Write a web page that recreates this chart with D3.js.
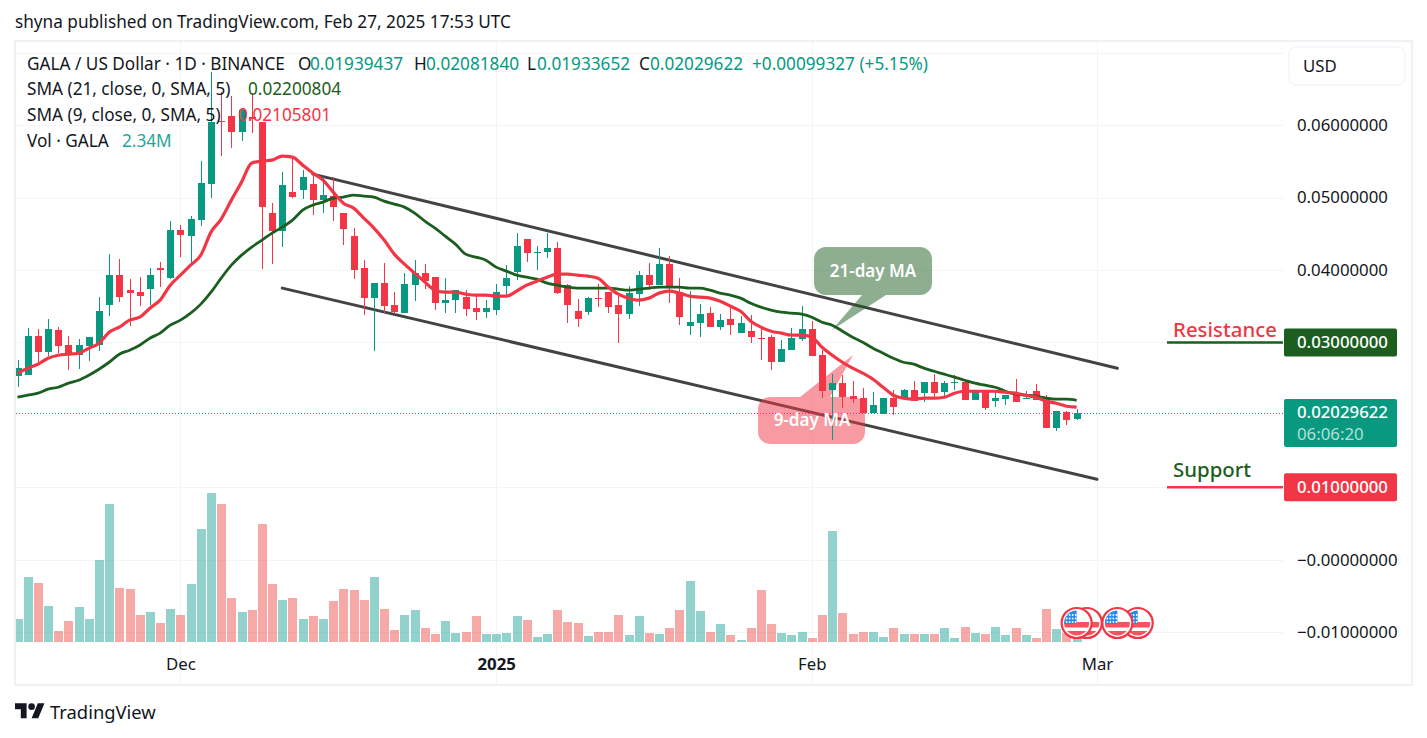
<!DOCTYPE html>
<html>
<head>
<meta charset="utf-8">
<title>GALA / US Dollar</title>
<script src="https://cdn.jsdelivr.net/npm/d3@7"></script>
<style>
  html, body { margin: 0; padding: 0; background: #fff; }
  svg { display: block; }
  text { font-family: "Noto Sans", sans-serif; }
</style>
</head>
<body>
<div id="chart"></div>
<script>
const width = 1427;
const height = 738;

// daily bars, Nov 15 2024 to Feb 27 2025
const opens = [
  0.02533, 0.02547, 0.03086, 0.02864, 0.03169, 0.02961, 0.02823, 0.02947, 0.02961, 0.03514,
  0.03928, 0.03721, 0.03693, 0.03735, 0.04025, 0.03887, 0.04550, 0.04467, 0.04688, 0.05185,
  0.06055, 0.06124, 0.05903, 0.06110, 0.06041, 0.04784, 0.04536, 0.05074, 0.05102, 0.05185,
  0.04964, 0.05019, 0.04784, 0.04467, 0.04025, 0.03611, 0.03818, 0.03514, 0.03403, 0.03790,
  0.03956, 0.03900, 0.03541, 0.03583, 0.03624, 0.03472, 0.03417, 0.03445, 0.03776, 0.03970,
  0.04426, 0.04232, 0.04246, 0.04301, 0.03790, 0.03431, 0.03417, 0.03611, 0.03693, 0.03514,
  0.03389, 0.03666, 0.03928, 0.03790, 0.04080, 0.03693, 0.03224, 0.03265, 0.03403, 0.03210,
  0.03321, 0.03128, 0.03155, 0.03065, 0.03072, 0.02726, 0.02892, 0.03044, 0.03183, 0.02823,
  0.02340, 0.02437, 0.02257, 0.02230, 0.02023, 0.02009, 0.02230, 0.02216, 0.02340, 0.02299,
  0.02451, 0.02312, 0.02437, 0.02451, 0.02202, 0.02312, 0.02188, 0.02216, 0.02271, 0.02216,
  0.02326, 0.02202, 0.01816, 0.02036, 0.01939
];
const highs = [
  0.02754, 0.03197, 0.03183, 0.03321, 0.03210, 0.03086, 0.03044, 0.03072, 0.03624, 0.04218,
  0.04149, 0.03873, 0.03900, 0.04025, 0.04108, 0.04674, 0.04619, 0.04743, 0.05502, 0.06731,
  0.06455, 0.06400, 0.06234, 0.06442, 0.06041, 0.04922, 0.05350, 0.05571, 0.05378, 0.05309,
  0.05281, 0.05281, 0.04784, 0.04578, 0.04135, 0.03818, 0.04094, 0.03693, 0.03956, 0.04135,
  0.04080, 0.03900, 0.03887, 0.03721, 0.03721, 0.03652, 0.03583, 0.03804, 0.04066, 0.04509,
  0.04426, 0.04329, 0.04509, 0.04384, 0.03804, 0.03597, 0.03624, 0.03804, 0.03693, 0.03638,
  0.03776, 0.03984, 0.04094, 0.04301, 0.04191, 0.03887, 0.03707, 0.03528, 0.03486, 0.03389,
  0.03486, 0.03362, 0.03376, 0.03183, 0.03100, 0.03030, 0.03197, 0.03500, 0.03293, 0.02892,
  0.02561, 0.02547, 0.02464, 0.02368, 0.02312, 0.02230, 0.02340, 0.02354, 0.02464, 0.02451,
  0.02561, 0.02464, 0.02547, 0.02451, 0.02312, 0.02312, 0.02312, 0.02271, 0.02492, 0.02326,
  0.02423, 0.02271, 0.02050, 0.02050, 0.02082
];
const lows = [
  0.02381, 0.02547, 0.02726, 0.02809, 0.02851, 0.02616, 0.02630, 0.02740, 0.02878, 0.03362,
  0.03555, 0.03224, 0.03500, 0.03514, 0.03763, 0.03873, 0.04177, 0.04094, 0.04605, 0.04992,
  0.05571, 0.05682, 0.05779, 0.05889, 0.04011, 0.04080, 0.04315, 0.04992, 0.04978, 0.04757,
  0.04784, 0.04674, 0.04343, 0.03873, 0.03376, 0.02878, 0.03403, 0.03389, 0.03403, 0.03569,
  0.03735, 0.03445, 0.03403, 0.03403, 0.03362, 0.03307, 0.03334, 0.03376, 0.03638, 0.03859,
  0.04108, 0.03997, 0.04163, 0.03666, 0.03265, 0.03210, 0.03376, 0.03486, 0.03403, 0.02988,
  0.03321, 0.03500, 0.03721, 0.03790, 0.03541, 0.03238, 0.03099, 0.03072, 0.03210, 0.03169,
  0.03100, 0.03128, 0.02988, 0.02754, 0.02616, 0.02726, 0.02892, 0.03016, 0.02809, 0.02230,
  0.01649, 0.02092, 0.02160, 0.02023, 0.02023, 0.02009, 0.01995, 0.02216, 0.02188, 0.02174,
  0.02243, 0.02230, 0.02340, 0.02202, 0.02202, 0.02064, 0.02106, 0.02133, 0.02174, 0.02216,
  0.02202, 0.01816, 0.01774, 0.01857, 0.01934
];
const closes = [
  0.02644, 0.03086, 0.02864, 0.03183, 0.02947, 0.02823, 0.02961, 0.03072, 0.03431, 0.03928,
  0.03624, 0.03680, 0.03638, 0.03928, 0.03997, 0.04550, 0.04481, 0.04702, 0.05199, 0.06041,
  0.06041, 0.05903, 0.06207, 0.06082, 0.04867, 0.04536, 0.05171, 0.05005, 0.05281, 0.04964,
  0.05033, 0.04867, 0.04564, 0.03997, 0.03611, 0.03818, 0.03500, 0.03417, 0.03804, 0.03956,
  0.03845, 0.03541, 0.03583, 0.03721, 0.03458, 0.03417, 0.03472, 0.03693, 0.03887, 0.04329,
  0.04232, 0.04246, 0.04301, 0.03680, 0.03514, 0.03321, 0.03611, 0.03604, 0.03486, 0.03389,
  0.03680, 0.03928, 0.03790, 0.04080, 0.03749, 0.03348, 0.03279, 0.03389, 0.03210, 0.03307,
  0.03238, 0.03265, 0.03072, 0.03051, 0.02726, 0.02906, 0.03059, 0.03183, 0.02809, 0.02326,
  0.02437, 0.02243, 0.02216, 0.02023, 0.02133, 0.02230, 0.02106, 0.02340, 0.02188, 0.02451,
  0.02299, 0.02437, 0.02451, 0.02202, 0.02312, 0.02092, 0.02230, 0.02271, 0.02174, 0.02230,
  0.02202, 0.01816, 0.02050, 0.01926, 0.02030
];
const volumes = [ // millions
  13.8, 39, 35.4, 21.6, 6.6, 12.6, 21, 13.8, 49.2, 82.8,
  32.4, 31.8, 16.2, 18, 11.4, 19.8, 16.2, 34.8, 67.8, 89.4,
  82.8, 26.4, 18, 19.2, 70.8, 34.8, 25.2, 26.4, 13.8, 15.6,
  13.8, 24.6, 31.8, 31.2, 25.2, 39, 19.8, 7.2, 16.2, 19.2,
  8.4, 4.8, 12.6, 5.4, 6, 15.6, 4.8, 4.8, 5.4, 15.6,
  13.2, 3, 4.8, 19.2, 12, 11.4, 3.6, 6, 6, 16.2,
  4.2, 15.6, 5.4, 4.8, 8.4, 19.2, 36.6, 18.6, 6, 10.8,
  4.2, 1.2, 8.4, 31.2, 10.8, 5.4, 4.2, 6, 2.4, 16.2,
  66.6, 17.4, 4.8, 6, 6, 3, 8.4, 4.8, 4.8, 4.8,
  4.8, 8.4, 2.4, 9, 5.4, 4.8, 9, 4.2, 8.4, 4.2,
  2.4, 19.8, 7.8, 5.4, 2.34
];
const sma9 = [
  0.02575, 0.02644, 0.02699, 0.02782, 0.02823, 0.02837, 0.02851, 0.02920, 0.02988, 0.03141,
  0.03210, 0.03307, 0.03348, 0.03472, 0.03583, 0.03790, 0.03928, 0.04066, 0.04204, 0.04522,
  0.04702, 0.04964, 0.05212, 0.05475, 0.05502, 0.05516, 0.05571, 0.05557, 0.05447, 0.05337,
  0.05240, 0.05074, 0.04922, 0.04853, 0.04716, 0.04578, 0.04412, 0.04218, 0.04080, 0.03956,
  0.03832, 0.03721, 0.03693, 0.03693, 0.03666, 0.03652, 0.03652, 0.03638, 0.03638, 0.03707,
  0.03790, 0.03845, 0.03900, 0.03942, 0.03942, 0.03928, 0.03914, 0.03887, 0.03763, 0.03666,
  0.03611, 0.03583, 0.03611, 0.03680, 0.03707, 0.03680, 0.03638, 0.03624, 0.03611, 0.03569,
  0.03500, 0.03431, 0.03293, 0.03210, 0.03155, 0.03128, 0.03100, 0.03100, 0.03072, 0.02933,
  0.02823, 0.02726, 0.02644, 0.02575, 0.02492, 0.02381, 0.02271, 0.02230, 0.02216, 0.02230,
  0.02230, 0.02243, 0.02299, 0.02326, 0.02326, 0.02326, 0.02326, 0.02312, 0.02299, 0.02271,
  0.02243, 0.02188, 0.02160, 0.02119, 0.02106
];
const sma21 = [
  0.02243, 0.02271, 0.02299, 0.02354, 0.02381, 0.02437, 0.02478, 0.02547, 0.02630, 0.02726,
  0.02837, 0.02892, 0.02961, 0.03058, 0.03128, 0.03238, 0.03307, 0.03403, 0.03528, 0.03693,
  0.03887, 0.04066, 0.04204, 0.04315, 0.04412, 0.04509, 0.04591, 0.04688, 0.04826, 0.04895,
  0.04936, 0.04992, 0.05005, 0.05033, 0.05019, 0.05005, 0.04950, 0.04909, 0.04867, 0.04784,
  0.04674, 0.04578, 0.04467, 0.04357, 0.04218, 0.04177, 0.04135, 0.04039, 0.03984, 0.03928,
  0.03900, 0.03873, 0.03818, 0.03790, 0.03763, 0.03749, 0.03749, 0.03749, 0.03749, 0.03735,
  0.03721, 0.03735, 0.03749, 0.03763, 0.03763, 0.03763, 0.03749, 0.03749, 0.03721, 0.03680,
  0.03652, 0.03611, 0.03541, 0.03486, 0.03445, 0.03417, 0.03403, 0.03389, 0.03348, 0.03279,
  0.03238, 0.03155, 0.03072, 0.03003, 0.02920, 0.02851, 0.02782, 0.02726, 0.02699, 0.02644,
  0.02602, 0.02561, 0.02520, 0.02478, 0.02437, 0.02409, 0.02381, 0.02326, 0.02285, 0.02271,
  0.02257, 0.02230, 0.02216, 0.02216, 0.02201
];

// drawn trend channel: [start, end]
const upperDates = [new Date(Date.UTC(2024, 11, 14)), new Date(Date.UTC(2025, 2, 3))];
const upperPrices = [0.05323, 0.02644];
const lowerDates = [new Date(Date.UTC(2024, 11, 11)), new Date(Date.UTC(2025, 2, 1))];
const lowerPrices = [0.03749, 0.01110];

const lastPrice = 0.02029622;
const resistance = 0.03;
const support = 0.01;

const gridPrices = [0.07, 0.06, 0.05, 0.04, 0.03, 0.02, 0.01, 0, -0.01];
const axisPrices = [0.06, 0.05, 0.04, 0, -0.01];
const gridDates = [new Date(Date.UTC(2024, 11, 1)), new Date(Date.UTC(2025, 0, 1)), new Date(Date.UTC(2025, 1, 1)), new Date(Date.UTC(2025, 2, 1))];
const dateLabels = ["Dec", "2025", "Feb", "Mar"];
const eventDates = [new Date(Date.UTC(2025, 1, 28)), new Date(Date.UTC(2025, 1, 27)), new Date(Date.UTC(2025, 2, 5)), new Date(Date.UTC(2025, 2, 3))];

const days = opens.map((d, i) => new Date(Date.UTC(2024, 10, 15 + i)));

const green = "#089981";
const red = "#f23645";
const darkGreen = "#1b5e20";
const ink = "#131722";
const gridColor = "#f3f4f6";
const tickFont = 16.8;
const legendFont = 17.2;

const svg = d3.select("#chart")
  .append("svg")
  .attr("width", width)
  .attr("height", height);

const x = d3.scaleUtc()
  .domain([new Date(Date.UTC(2024, 10, 15)), new Date(Date.UTC(2025, 2, 1))])
  .range([17.5, 1097]);

const y = d3.scaleLinear().domain([-0.01, 0.07]).range([632.2, 52.6]);

const yVol = d3.scaleLinear().domain([0, 89.4]).range([642, 493]);

const tx = d => Math.round(x(d));

svg.append("defs").append("clipPath").attr("id", "pane")
  .append("rect").attr("x", 16).attr("y", 42).attr("width", 1267).attr("height", 642);

// Frame
svg.append("rect")
  .attr("x", 15).attr("y", 41).attr("width", 1397).attr("height", 644)
  .attr("fill", "none").attr("stroke", "#f0f1f4").attr("stroke-width", 2);

// Grid
svg.append("g").selectAll("line")
  .data(gridPrices)
  .join("line")
  .attr("x1", 16).attr("x2", 1283)
  .attr("y1", d => Math.round(y(d)) + 0.5).attr("y2", d => Math.round(y(d)) + 0.5)
  .attr("stroke", gridColor);
svg.append("g").selectAll("line")
  .data(gridDates)
  .join("line")
  .attr("y1", 42).attr("y2", 684)
  .attr("x1", d => tx(d) + 0.5).attr("x2", d => tx(d) + 0.5)
  .attr("stroke", gridColor);

// Volume
svg.append("g").attr("clip-path", "url(#pane)").selectAll("rect")
  .data(days)
  .join("rect")
  .attr("x", d => tx(d) - 4)
  .attr("width", 9)
  .attr("y", (d, i) => yVol(volumes[i]))
  .attr("height", (d, i) => yVol(0) - yVol(volumes[i]))
  .attr("fill", (d, i) => closes[i] >= opens[i] ? "rgba(38,166,154,0.5)" : "rgba(239,83,80,0.5)");

// Channel
const channel = svg.append("g").attr("stroke", "#434343").attr("stroke-width", 3).attr("stroke-linecap", "round");
channel.append("line")
  .attr("x1", x(upperDates[0])).attr("y1", y(upperPrices[0]))
  .attr("x2", x(upperDates[1])).attr("y2", y(upperPrices[1]));
channel.append("line")
  .attr("x1", x(lowerDates[0])).attr("y1", y(lowerPrices[0]))
  .attr("x2", x(lowerDates[1])).attr("y2", y(lowerPrices[1]));

// Callout shapes
svg.append("path")
  .attr("d", "M826,247H920a12,12 0 0 1 12,12V283a12,12 0 0 1 -12,12H886L832,330L862,295H826a12,12 0 0 1 -12,-12V259a12,12 0 0 1 12,-12Z")
  .attr("fill", darkGreen)
  .attr("fill-opacity", 0.5);
svg.append("path")
  .attr("d", "M770,397H800L853,355L830,397H853a12,12 0 0 1 12,12V432a12,12 0 0 1 -12,12H770a12,12 0 0 1 -12,-12V409a12,12 0 0 1 12,-12Z")
  .attr("fill", red)
  .attr("fill-opacity", 0.5);

// Candles
const candles = svg.append("g").attr("shape-rendering", "crispEdges").attr("clip-path", "url(#pane)");
candles.selectAll("line")
  .data(days)
  .join("line")
  .attr("x1", d => tx(d) + 0.5).attr("x2", d => tx(d) + 0.5)
  .attr("y1", (d, i) => y(highs[i]))
  .attr("y2", (d, i) => y(lows[i]))
  .attr("stroke", (d, i) => closes[i] >= opens[i] ? green : red);
candles.selectAll("rect")
  .data(days)
  .join("rect")
  .attr("x", d => tx(d) - 3)
  .attr("width", 7)
  .attr("y", (d, i) => y(Math.max(opens[i], closes[i])))
  .attr("height", (d, i) => Math.max(1, Math.abs(y(opens[i]) - y(closes[i]))))
  .attr("fill", (d, i) => closes[i] >= opens[i] ? green : red);

// Moving averages
const line = d3.line().x((d, i) => x(days[i])).y(d => y(d)).curve(d3.curveMonotoneX);
const averages = svg.append("g").attr("clip-path", "url(#pane)").attr("fill", "none").attr("stroke-linejoin", "round");
averages.append("path").datum(sma21)
  .attr("d", line)
  .attr("stroke", darkGreen)
  .attr("stroke-width", 2.8);
averages.append("path").datum(sma9)
  .attr("d", line)
  .attr("stroke", red)
  .attr("stroke-width", 3.2);

// Last price line
svg.append("line")
  .attr("x1", 16).attr("x2", 1283)
  .attr("y1", Math.round(y(lastPrice)) + 0.5).attr("y2", Math.round(y(lastPrice)) + 0.5)
  .attr("stroke", green)
  .attr("stroke-dasharray", "1 2");

// Callout text
svg.append("text").attr("x", 873).attr("y", 277).attr("text-anchor", "middle")
  .attr("fill", "#fff").attr("font-size", 17).attr("font-weight", 600).text("21-day MA");
svg.append("text").attr("x", 812).attr("y", 426).attr("text-anchor", "middle")
  .attr("fill", "#fff").attr("font-size", 17).attr("font-weight", 600).text("9-day MA");

// Event flags
svg.select("defs").append("clipPath").attr("id", "flag-clip")
  .append("circle").attr("r", 12.5);
const flags = svg.append("g").selectAll("g")
  .data(eventDates)
  .join("g")
  .attr("transform", d => `translate(${x(d)},623)`);
flags.append("circle").attr("r", 15).attr("fill", "#fff").attr("stroke", red).attr("stroke-width", 2.2);
const flagBody = flags.append("g").attr("clip-path", "url(#flag-clip)");
flagBody.append("rect").attr("x", -13).attr("y", -1).attr("width", 26).attr("height", 5.5).attr("fill", "#f7525f");
flagBody.append("rect").attr("x", -13).attr("y", 8).attr("width", 26).attr("height", 6).attr("fill", "#f7525f");
flagBody.append("rect").attr("x", -13).attr("y", -13).attr("width", 13).attr("height", 14).attr("fill", "#2a8ae6");
flagBody.selectAll("circle.star")
  .data(d3.cross([-10, -7, -4, -1], [-8, -4.5, -1]))
  .join("circle")
  .attr("class", "star")
  .attr("cx", d => d[0]).attr("cy", d => d[1]).attr("r", 0.9).attr("fill", "#fff");

// Price axis
const priceAxis = svg.append("g")
  .attr("transform", "translate(1297,0)")
  .call(d3.axisRight(y)
    .tickValues(axisPrices)
    .tickSize(0)
    .tickPadding(0)
    .tickFormat(d => (d <= 0 ? "\u2212" : "") + Math.abs(d).toFixed(8)));
priceAxis.select(".domain").remove();
priceAxis.selectAll("text").attr("font-size", tickFont).attr("font-family", "'Noto Sans', sans-serif").attr("fill", ink);

// Time axis
const timeAxis = svg.append("g")
  .attr("transform", "translate(0,658)")
  .call(d3.axisBottom(x)
    .tickValues(gridDates)
    .tickSize(0)
    .tickPadding(0)
    .tickFormat((d, i) => dateLabels[i]));
timeAxis.select(".domain").remove();
timeAxis.selectAll("text")
  .attr("font-size", tickFont)
  .attr("font-family", "'Noto Sans', sans-serif")
  .attr("fill", ink)
  .attr("font-weight", (d, i) => i === 1 ? 700 : 400);

// Level markers
[[resistance, darkGreen, "Resistance", red, 5], [support, red, "Support", darkGreen, 10]].forEach(([level, color, label, labelColor, lift]) => {
  svg.append("line")
    .attr("x1", 1167).attr("x2", 1283)
    .attr("y1", y(level)).attr("y2", y(level))
    .attr("stroke", color).attr("stroke-width", 2.5);
  svg.append("rect")
    .attr("x", 1284).attr("y", y(level) - 14).attr("width", 113).attr("height", 28).attr("rx", 2)
    .attr("fill", color);
  svg.append("text")
    .attr("x", 1297).attr("y", y(level) + 6)
    .attr("fill", "#fff").attr("font-size", tickFont).attr("font-weight", 500)
    .text(level.toFixed(8));
  svg.append("text")
    .attr("x", 1173).attr("y", y(level) - lift)
    .attr("fill", labelColor).attr("font-size", 20.4).attr("font-weight", 500)
    .text(label);
});

// Last price label
svg.append("rect")
  .attr("x", 1284).attr("y", 399).attr("width", 113).attr("height", 48).attr("rx", 2)
  .attr("fill", green);
svg.append("text").attr("x", 1297).attr("y", 418).attr("fill", "#fff").attr("font-size", tickFont).attr("font-weight", 500)
  .text(lastPrice.toFixed(8));
svg.append("text").attr("x", 1297).attr("y", 439.5).attr("fill", "#fff").attr("fill-opacity", 0.7).attr("font-size", tickFont)
  .text("06:06:20");

// Currency box
svg.append("rect")
  .attr("x", 1289).attr("y", 47).attr("width", 116).attr("height", 38).attr("rx", 7)
  .attr("fill", "#fff").attr("stroke", "#eff0f3");
svg.append("text").attr("x", 1303).attr("y", 71.5).attr("fill", ink).attr("font-size", tickFont).text("USD");

// Header
svg.append("text").attr("x", 15).attr("y", 28).attr("fill", ink).attr("font-size", 17.2)
  .text("shyna published on TradingView.com, Feb 27, 2025 17:53 UTC");

// Legend
const legendRows = [
  [27, 69.5, "GALA / US Dollar \u00b7 1D \u00b7 BINANCE", ink],
  [298, 69.5, "O", ink], [310, 69.5, "0.01939437", green],
  [414, 69.5, "H", ink], [426, 69.5, "0.02081840", green],
  [527, 69.5, "L", ink], [537, 69.5, "0.01933652", green],
  [639, 69.5, "C", ink], [650, 69.5, "0.02029622", green],
  [752, 69.5, "+0.00099327 (+5.15%)", green],
  [27, 95, "SMA (21, close, 0, SMA, 5)", ink], [248, 95, "0.02200804", darkGreen],
  [27, 121, "SMA (9, close, 0, SMA, 5)", ink], [238, 121, "0.02105801", red],
  [27, 147, "Vol \u00b7 GALA", ink], [122, 147, "2.34M", "#26a69a"]
];
svg.append("g").selectAll("text")
  .data(legendRows)
  .join("text")
  .attr("x", d => d[0]).attr("y", d => d[1])
  .attr("fill", d => d[3])
  .attr("font-size", legendFont)
  .text(d => d[2]);

// Logo
const logo = svg.append("g").attr("transform", "translate(15,700) scale(0.83)").attr("fill", ink);
logo.append("path").attr("d", "M14 22H7V11H0V4h14v18zM28 22h-8l7.5-18h8L28 22z");
logo.append("circle").attr("cx", 20).attr("cy", 8).attr("r", 4);
svg.append("text").attr("x", 50).attr("y", 719).attr("fill", ink).attr("font-size", 18.4).text("TradingView");
</script>
</body>
</html>
